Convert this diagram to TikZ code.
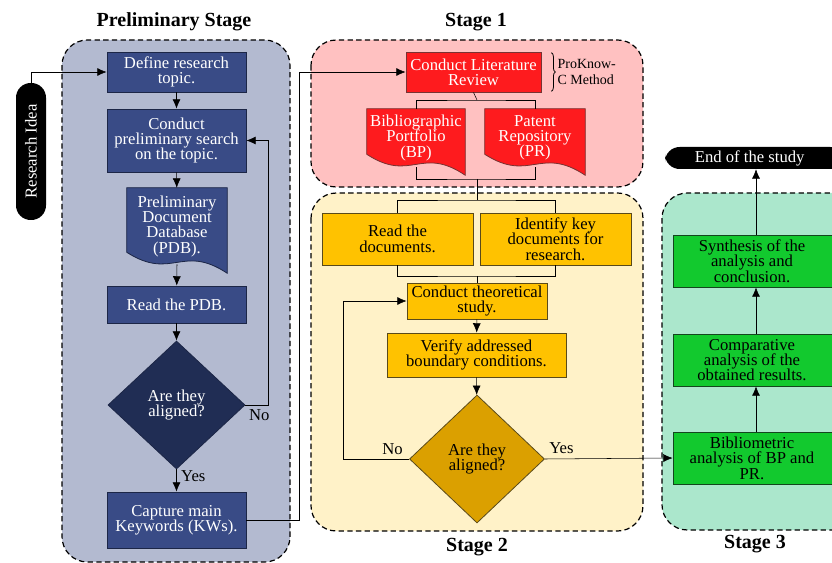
\documentclass[tikz,border=0pt]{standalone}
\usepackage{fontspec}
\setmainfont{Liberation Serif}
\newfontfamily\boxfont{Liberation Serif}
\usepackage{tikz}
\usetikzlibrary{arrows.meta,calc,shapes.geometric,backgrounds,decorations.pathreplacing}
\definecolor{prelimbg}{RGB}{179,186,208}
\definecolor{prelimbox}{RGB}{57,75,134}
\definecolor{prelimdia}{RGB}{32,45,84}
\definecolor{prelimline}{RGB}{28,38,70}
\definecolor{oneb}{RGB}{255,193,193}
\definecolor{onebox}{RGB}{254,27,30}
\definecolor{oneline}{RGB}{120,50,50}
\definecolor{twobg}{RGB}{255,242,200}
\definecolor{twobox}{RGB}{255,194,0}
\definecolor{twodia}{RGB}{219,160,0}
\definecolor{twoline}{RGB}{90,74,26}
\definecolor{threebg}{RGB}{171,231,204}
\definecolor{threebox}{RGB}{18,201,46}
\definecolor{threeline}{RGB}{20,70,30}
\newcommand{\docstrut}{\rule[-9pt]{0pt}{9pt}}
\newcommand{\docwave}[3]{%
  \filldraw[fill=#2, draw=#3, line width=0.6pt]
    (#1.north west) -- (#1.north east) -- (#1.south east)
    .. controls ($(#1.south east)!0.45!(#1.south west)+(0,-30)$)
    and ($(#1.south east)!0.55!(#1.south west)+(0,8)$)
    .. ($(#1.south west)+(0,-21)$) -- cycle;}

\begin{document}
\begin{tikzpicture}[x=0.75pt, y=-0.75pt, >={Latex[length=7pt,width=6pt]}, line width=1.1pt,
	wh/.style 2 args={minimum width=#1*0.75pt, minimum height=#2*0.75pt},
	txt/.style={font=\boxfont\fontsize{12.5}{11.5}\selectfont, align=center, inner sep=1pt},
	title/.style={font=\boxfont\fontsize{15}{17}\selectfont\bfseries},
	stagebox/.style={draw, dashed, dash pattern=on 4pt off 2.5pt, line width=0.9pt, rounded corners=19pt},
	pbox/.style={txt, draw=prelimline, line width=0.6pt, fill=prelimbox, text=white},
	rbox/.style={txt, draw=oneline, line width=0.6pt, fill=onebox, text=white},
	ybox/.style={txt, draw=twoline, line width=0.6pt, fill=twobox},
	gbox/.style={txt, draw=threeline, line width=0.6pt, fill=threebox},
	docnode/.style={txt, text=white},
	pill/.style={txt, fill=black, text=white, rounded corners=11pt},
	dia/.style={txt, diamond, inner sep=0pt},
	lbl/.style={font=\boxfont\fontsize{12.5}{12}\selectfont}]
	\useasboundingbox (0,0) rectangle (832,563);

	\begin{pgfonlayer}{background}
		\filldraw[stagebox, fill=prelimbg] (62,40) rectangle (290,562);
		\filldraw[stagebox, fill=oneb] (311,40) rectangle (643,187);
		\filldraw[stagebox, fill=twobg] (311,193) rectangle (643,531);
		\filldraw[stagebox, fill=threebg] (662,193) rectangle (880,530);
	\end{pgfonlayer}

	\node[title] (tp) at (174,22) {Preliminary Stage};
	\node[title] (t1) at (476,22) {Stage 1};
	\node[title] (t2) at (477,547) {Stage 2};
	\node[title] (t3) at (755,544) {Stage 3};

	\node[pill, rotate=90, wh={137}{30}] (idea) at (31,151.5) {Research Idea};
	\node[pbox, wh={139}{40}] (define) at (176.5,72) {Define research\\topic.};
	\node[pbox, wh={139}{63}] (search) at (176.5,140.5) {Conduct\\preliminary search\\on the topic.};
	\node[docnode, wh={100}{85}] (pdb) at (177,230.5) {Preliminary\\Document\\Database\\(PDB).\docstrut};
	\node[pbox, wh={139}{37}] (readpdb) at (176.5,304.5) {Read the PDB.};
	\node[dia, fill=prelimdia, draw=prelimline, line width=0.6pt, text=white, wh={137}{128}] (q1) at (176.5,405) {Are they\\aligned?};
	\node[pbox, wh={139}{56}] (capture) at (176.5,520) {Capture main\\Keywords (KWs).};

	\node[rbox, wh={135}{40}] (clr) at (473.5,72) {Conduct Literature\\Review};
	\node[docnode, wh={98}{66}] (bp) at (416,142) {Bibliographic\\Portfolio\\(BP)\docstrut};
	\node[docnode, wh={100}{66}] (pr) at (535,142) {Patent\\Repository\\(PR)\docstrut};

	\node[ybox, wh={151}{52}] (readdoc) at (397.5,239) {Read the\\documents.};
	\node[ybox, wh={151}{52}] (ident) at (555.5,239) {Identify key\\documents for\\research.};
	\node[ybox, wh={140}{36}] (theory) at (477,301) {Conduct theoretical\\study.};
	\node[ybox, wh={179}{44}] (verify) at (476.5,355) {Verify addressed\\boundary conditions.};
	\node[dia, fill=twodia, draw=twoline, line width=0.6pt, wh={135}{128}] (q2) at (477,459) {Are they\\aligned?};

	\node[gbox, wh={166}{52}] (biblio) at (756,458) {\hspace*{-6pt}Bibliometric\\\hspace*{-6pt}analysis of BP and\\\hspace*{-6pt}PR.};
	\node[gbox, wh={166}{52}] (compare) at (756,360) {\hspace*{-6pt}Comparative\\\hspace*{-6pt}analysis of the\\\hspace*{-6pt}obtained results.};
	\node[gbox, wh={166}{52}] (synth) at (756,261) {\hspace*{-6pt}Synthesis of the\\\hspace*{-6pt}analysis and\\\hspace*{-6pt}conclusion.};
	\node[pill, wh={180}{22}] (end) at (755,158) {\hspace*{-8pt}End of the study};

	\begin{pgfonlayer}{background}
		\docwave{pdb}{prelimbox}{prelimline}
		\docwave{bp}{onebox}{oneline}
		\docwave{pr}{onebox}{oneline}
	\end{pgfonlayer}

	\coordinate (j1) at (477,179);
	\coordinate (j2) at (477,200);
	\coordinate (j3) at (477,276);
	\coordinate (j4) at (477,100);

	\draw [->] (idea.east) |- (define.west);
	\draw [->] (define) -- (search);
	\draw [->] (search) -- (pdb);
	\draw [->] ($(pdb.south)+(0,-9)$) -- (readpdb);
	\draw [->] (readpdb) -- (q1);
	\draw [->] (q1.east) -- ++(23,0) node[lbl, below, pos=0.6]{No} |- (search.east);
	\draw [->] (q1.south) -- node[lbl, right, pos=0.3]{Yes} (capture.north);
	\draw [->] (capture.east) -| ($(capture.east)+(53,0)$) |- (clr.west);

	\draw [decorate, decoration={brace, amplitude=3pt}, line width=0.6pt] ($(clr.north east)+(10,1)$) -- ($(clr.south east)+(10,-1)$)
		node[midway, right, xshift=1pt, align=left, font=\boxfont\fontsize{10.5}{11.5}\selectfont]{ProKnow-\\C Method};

	\draw (clr.south) -- (j4);
	\draw (bp.north) |- (j4) -| (pr.north);
	\draw ($(bp.south)+(0,-8)$) |- (j1) -| ($(pr.south)+(0,-8)$);
	\draw (j1) -- (j2);
	\draw (readdoc.north) |- (j2) -| (ident.north);
	\draw (readdoc.south) |- (j3) -| (ident.south);
	\draw (j3) -- (theory.north);

	\draw [->] (theory) -- (verify);
	\draw [->] (verify) -- (q2);
	\draw [->] (q2.west) -- ++(-66,0) node[lbl, pos=0.25, above]{No} |- (theory.west);
	\draw [->] (q2.east) -- node[lbl, pos=0.13, above]{Yes} (biblio.west);
	\draw [->] (biblio) -- (compare);
	\draw [->] (compare) -- (synth);
	\draw [->] (synth) -- (synth |- end.south);
\end{tikzpicture}
\end{document}
